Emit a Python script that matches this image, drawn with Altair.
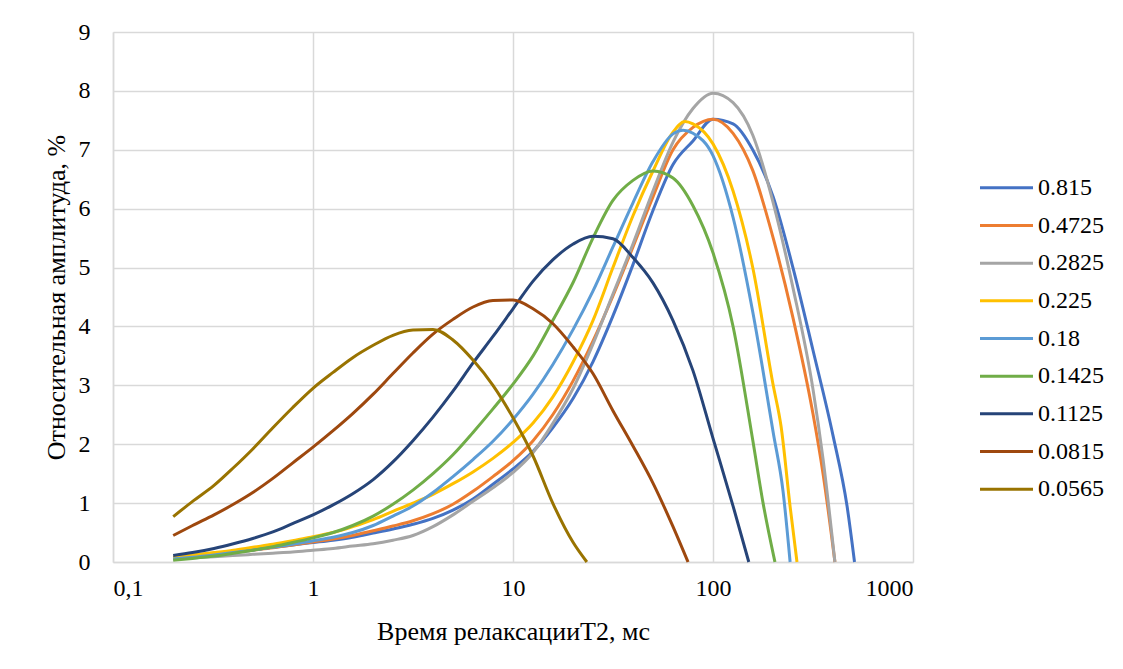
import altair as alt
import pandas as pd

# shared T2 grid (ms)
t2_grid = [0.2, 0.25, 0.32, 0.4, 0.5, 0.63, 0.79, 1, 1.26, 1.58, 2, 2.51, 3.16, 3.98,
           5.01, 6.31, 7.94, 10, 12.6, 15.8, 20, 25.1, 31.6, 39.8, 50.1, 63.1, 79.4,
           100, 126, 158, 200, 251, 316, 398, 501]

series_names = ["0.815", "0.4725", "0.2825", "0.225", "0.18", "0.1425", "0.1125", "0.0815", "0.0565"]
colors = ["#4472C4", "#ED7D31", "#A5A5A5", "#FFC000", "#5B9BD5", "#70AD47", "#264478", "#9E480E", "#997300"]

# amplitudes on the grid (prefix), followed by extra tail points (t2, amp)
amp_0815 = [0.08, 0.11, 0.14, 0.18, 0.21, 0.25, 0.29, 0.33, 0.37, 0.42, 0.49, 0.56, 0.64, 0.74,
            0.88, 1.07, 1.32, 1.58, 1.88, 2.28, 2.78, 3.4, 4.18, 5.05, 5.97, 6.75, 7.15, 7.52,
            7.44, 7.0, 6.2, 5.0, 3.6, 2.15]
tail_0815 = [(468, 0.95), (510, 0.0)]

amp_04725 = [0.06, 0.09, 0.12, 0.16, 0.2, 0.24, 0.29, 0.34, 0.39, 0.45, 0.53, 0.61, 0.7, 0.82,
             0.98, 1.2, 1.45, 1.72, 2.06, 2.5, 3.08, 3.75, 4.52, 5.35, 6.2, 7.0, 7.38, 7.52,
             7.28, 6.65, 5.5, 4.15, 2.52]
tail_04725 = [(355, 1.5), (407, 0.0)]

amp_02825 = [0.05, 0.07, 0.09, 0.11, 0.13, 0.15, 0.17, 0.2, 0.23, 0.27, 0.31, 0.37, 0.45, 0.6,
             0.8, 1.03, 1.26, 1.52, 1.86, 2.35, 2.95, 3.7, 4.55, 5.4, 6.3, 7.13, 7.7, 7.96,
             7.8, 7.25, 6.1, 4.66, 2.94]
tail_02825 = [(355, 1.75), (407, 0.0)]

amp_0225 = [0.08, 0.12, 0.16, 0.2, 0.25, 0.3, 0.36, 0.43, 0.5, 0.6, 0.72, 0.86, 1.0, 1.15,
            1.33, 1.53, 1.76, 2.03, 2.36, 2.8, 3.4, 4.1, 5.0, 5.88, 6.64, 7.3]
tail_0225 = [(72.4, 7.48), (79.4, 7.44), (100, 7.1), (126, 6.3), (158, 5.0), (200, 3.0),
             (219, 2.3), (243, 0.94), (263, 0.0)]

amp_018 = [0.05, 0.08, 0.12, 0.16, 0.2, 0.25, 0.3, 0.36, 0.42, 0.5, 0.62, 0.78, 0.95, 1.18,
           1.45, 1.74, 2.05, 2.42, 2.85, 3.35, 3.95, 4.6, 5.35, 6.1, 6.8, 7.27]
tail_018 = [(70.8, 7.33), (79.4, 7.28), (100, 6.9), (126, 5.85), (158, 4.25), (200, 2.2),
            (224, 1.2), (243, 0.0)]

amp_01425 = [0.03, 0.06, 0.1, 0.15, 0.2, 0.26, 0.33, 0.41, 0.5, 0.62, 0.78, 0.98, 1.22, 1.5,
             1.82, 2.2, 2.6, 3.02, 3.5, 4.1, 4.75, 5.5, 6.14, 6.48, 6.64, 6.52, 6.05, 5.25,
             4.0, 2.07]
tail_01425 = [(178, 1.0), (204, 0.0)]

amp_01125 = [0.11, 0.16, 0.23, 0.31, 0.4, 0.51, 0.65, 0.8, 0.97, 1.16, 1.4, 1.7, 2.06, 2.46,
             2.9, 3.38, 3.83, 4.3, 4.77, 5.13, 5.4, 5.53, 5.49, 5.17, 4.74, 4.1, 3.25, 2.1, 0.95]
tail_01125 = [(151, 0.0)]

amp_00815 = [0.45, 0.62, 0.8, 0.98, 1.18, 1.42, 1.68, 1.95, 2.23, 2.52, 2.85, 3.2, 3.55, 3.87,
             4.12, 4.33, 4.44, 4.45, 4.3, 4.05, 3.65, 3.2, 2.57, 1.97, 1.34, 0.6]
tail_00815 = [(75, 0.0)]

amp_00565 = [0.77, 1.03, 1.3, 1.6, 1.92, 2.28, 2.62, 2.95, 3.22, 3.47, 3.68, 3.85, 3.94, 3.95,
             3.77, 3.43, 3.0, 2.45, 1.8, 1.0, 0.33]
tail_00565 = [(23.4, 0.0)]

all_amps = [amp_0815, amp_04725, amp_02825, amp_0225, amp_018, amp_01425, amp_01125, amp_00815, amp_00565]
all_tails = [tail_0815, tail_04725, tail_02825, tail_0225, tail_018, tail_01425, tail_01125, tail_00815, tail_00565]

rows = []
for name, amps, tail in zip(series_names, all_amps, all_tails):
    for t, a in zip(t2_grid, amps):
        rows.append({"series": name, "t2": t, "amp": a})
    for t, a in tail:
        rows.append({"series": name, "t2": t, "amp": a})
df = pd.DataFrame(rows)
leg_df = pd.DataFrame({"series": series_names})

FONT = "Liberation Serif"
x_ticks = [0.1, 1, 10, 100, 1000]
y_ticks = [0, 1, 2, 3, 4, 5, 6, 7, 8, 9]

color_scale = alt.Scale(domain=series_names, range=colors)

lines = alt.Chart(df).mark_line(strokeWidth=3, interpolate="monotone").encode(
    x=alt.X("t2:Q",
            scale=alt.Scale(type="log", domain=[0.1, 1000]),
            axis=alt.Axis(values=x_ticks,
                          labelExpr="datum.value < 0.5 ? '0,1' : format(datum.value, 'd')",
                          grid=True, gridColor="#d9d9d9", gridWidth=1.5,
                          ticks=False, domainColor="#d9d9d9", domainWidth=1.5,
                          labelFont=FONT, labelFontSize=24, labelColor="#000000",
                          labelPadding=14,
                          title="Время релаксацииT2, мс", titleFont=FONT,
                          titleFontSize=26, titleFontWeight="normal", titleColor="#000000",
                          titlePadding=18)),
    y=alt.Y("amp:Q",
            scale=alt.Scale(domain=[0, 9], nice=False),
            axis=alt.Axis(values=y_ticks, grid=True, gridColor="#d9d9d9", gridWidth=1.5,
                          ticks=False, domainColor="#d9d9d9", domainWidth=1.5,
                          labelFont=FONT, labelFontSize=24, labelColor="#000000",
                          labelPadding=23,
                          title="Относительная амплитуда, %", titleFont=FONT,
                          titleFontSize=26, titleFontWeight="normal", titleColor="#000000",
                          titlePadding=9)),
    color=alt.Color("series:N", scale=color_scale, legend=None),
    order=alt.Order("t2:Q"),
)

leg_y = alt.Y("series:N", scale=alt.Scale(type="point", domain=series_names, range=[137, 476]), axis=None)

leg_rule = alt.Chart(leg_df).mark_rule(strokeWidth=3).encode(
    x=alt.value(867), x2=alt.value(920),
    y=leg_y,
    color=alt.Color("series:N", scale=color_scale, legend=None),
)
leg_text = alt.Chart(leg_df).mark_text(align="left", baseline="middle", font=FONT,
                                       fontSize=24, color="#000000").encode(
    x=alt.value(925),
    y=leg_y,
    text="series:N",
)

chart = alt.layer(lines, leg_rule, leg_text).resolve_scale(y="independent").properties(
    width=800, height=530,
    autosize=alt.AutoSizeParams(type="none"),
    padding={"left": 105, "top": 24, "right": 202, "bottom": 99},
    background="white",
).configure_view(stroke=None)

chart.save("out.html", embed_options={"renderer": "svg", "actions": False})
